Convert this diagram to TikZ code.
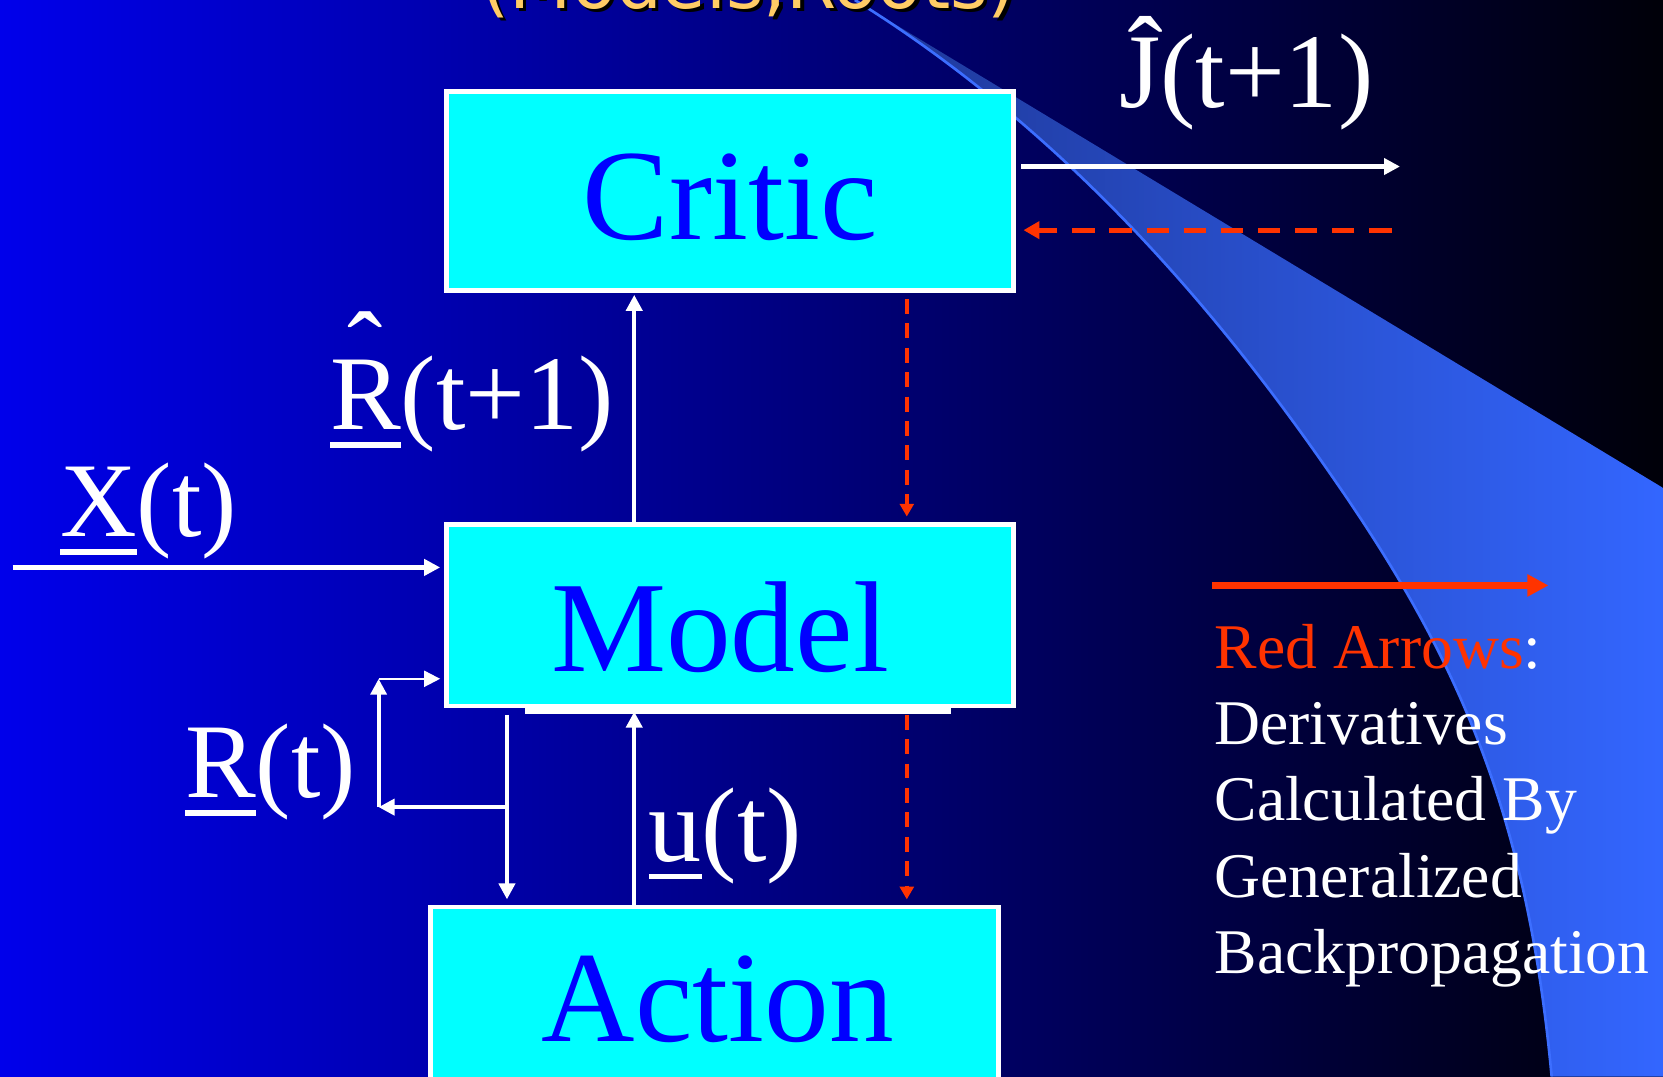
\documentclass[tikz,border=0pt]{standalone}
\usepackage{fontspec}
\setmainfont{Liberation Serif}
\newfontfamily\titlefont{DejaVu Sans}
\usetikzlibrary{arrows.meta}
\definecolor{bgA}{RGB}{0,0,235}
\definecolor{bgB}{RGB}{0,0,150}
\definecolor{bgC}{RGB}{0,0,8}
\definecolor{swA}{RGB}{30,55,150}
\definecolor{swB}{RGB}{51,102,255}
\definecolor{swL}{RGB}{60,110,255}
\definecolor{cyanbox}{RGB}{0,255,255}
\definecolor{boxblue}{RGB}{0,0,255}
\definecolor{redc}{RGB}{255,51,0}
\definecolor{titley}{RGB}{255,204,102}
\newcommand{\myul}[1]{\setbox0\hbox{#1}\rlap{\rule[-17pt]{\wd0}{5pt}}\box0}
\newcommand{\myhat}[1]{\setbox2\hbox{#1}\rlap{\hbox to \wd2{\hss\raisebox{42pt}{ˆ}\hss}}\box2}
\begin{document}
\begin{tikzpicture}[x=1pt,y=1pt,
  box/.style={draw=white, line width=4.5pt, fill=cyanbox, inner sep=0pt, text=boxblue,
    font=\fontsize{122}{140}\selectfont, text depth=0pt},
  lbl/.style={anchor=base, text=white, font=\fontsize{100}{120}\selectfont, inner sep=0pt},
  warrow/.style={draw=white, line width=4pt, -{Triangle[length=15pt,width=15pt]}},
  warrowthin/.style={draw=white, line width=2pt, -{Triangle[length=15pt,width=15pt]}},
  rdashH/.style={draw=redc, line width=4.7pt, dash pattern=on 21pt off 14pt, -{Triangle[length=15pt,width=16pt]}},
  rdashV/.style={draw=redc, line width=3.5pt, dash pattern=on 14pt off 9pt, -{Triangle[length=12pt,width=13pt]}},
  rarrow/.style={draw=redc, line width=6pt, -{Triangle[length=20pt,width=20pt]}}
]
\useasboundingbox (0,0) rectangle (1568,-1015);
\clip (0,0) rectangle (1568,-1015);
% background
\shade[left color=bgA, middle color=bgB, right color=bgC] (0,0) rectangle (1568,-1015);
% swoosh
\shade[left color=swA, right color=swB] (806,0) .. controls (1027,-137) and (1175,-331.5) .. (1260,-455) .. controls (1374,-620) and (1440,-766) .. (1463,-1015) -- (1568,-1015) -- (1568,-460) -- cycle;
\draw[swL, line width=2.5pt] (806,0) .. controls (1027,-137) and (1175,-331.5) .. (1260,-455) .. controls (1374,-620) and (1440,-766) .. (1463,-1015);
% title (cut off at top)
\node[anchor=base, inner sep=0pt, text=titley, font=\titlefont\fontsize{68}{80}\selectfont] (title) at (706,-8)
  {\rlap{\hspace*{3pt}\raisebox{-3pt}{\textcolor{black}{(Models,Roots)}}}(Models,Roots)};
% boxes
\node[box, minimum width=534.5pt, minimum height=187.5pt, text height=92pt] (critic) at (688.5,-180) {Critic};
\node[box, minimum width=534.5pt, minimum height=171.5pt, text height=106pt] (model) at (688.5,-580) {\hspace*{-19pt}Model};
\fill[white] (495,-667) rectangle (897,-673);
\node[box, minimum width=535.5pt, minimum height=182.5pt, text height=71pt] (action) at (674,-946.5) {\hspace*{6pt}Action};
% labels
\node[lbl] (jhat) at (1175,-101) {Ĵ(t+1)};
\node[lbl] (rhat) at (445,-405) {\myhat{\myul{R}}(t+1)};
\node[lbl] (xlab) at (140,-506) {\myul{X}(t)};
\node[lbl] (rlab) at (255,-752) {\myul{R}(t)};
\node[lbl] (ulab) at (684,-812) {\myul{u}(t)};
\node[anchor=base west, inner sep=0pt, text=white] (legend) at (1145,-630)
  {\parbox[t]{500pt}{\raggedright\fontsize{60}{72}\selectfont\textcolor{redc}{Red Arrows}:\\Derivatives\\Calculated By\\Generalized\\Backpropagation}};
% coordinates
\coordinate (cA) at (598,0);
\coordinate (cB) at (855,0);
\coordinate (cC) at (478,0);
\coordinate (jout) at (1320,-157);
\coordinate (jin) at (1312,-217);
\coordinate (xin) at (12,-535);
\coordinate (rbr) at (478,-761);
\coordinate (rlc) at (357,-761);
\coordinate (rtc) at (357,-640);
\coordinate (lg1) at (1143,-552);
\coordinate (lg2) at (1460,-552);
% connectors
\draw[warrow, shorten <=5pt] (critic.east |- jout) -- (jout);
\draw[rdashH, shorten >=7pt] (jin) -- (critic.east |- jin);
\draw[warrow, shorten >=2pt] (model.north -| cA) -- (critic.south -| cA);
\draw[rdashV, shorten <=6pt, shorten >=5pt] (critic.south -| cB) -- (model.north -| cB);
\draw[warrow, shorten >=4pt] (xin) -- (xin -| model.west);
\draw[warrow, shorten <=6pt, shorten >=5pt] (model.south -| cC) -- (action.north -| cC);
\draw[warrow] (rbr) -- (rlc);
\draw[warrow] (rlc) -- (rtc);
\draw[warrowthin, shorten >=4pt] (rtc) -- (rtc -| model.west);
\draw[warrow, shorten >=3pt] (action.north -| cA) -- (model.south -| cA);
\draw[rdashV, shorten <=6pt, shorten >=5pt] (model.south -| cB) -- (action.north -| cB);
\draw[rarrow] (lg1) -- (lg2);
\end{tikzpicture}
\end{document}
